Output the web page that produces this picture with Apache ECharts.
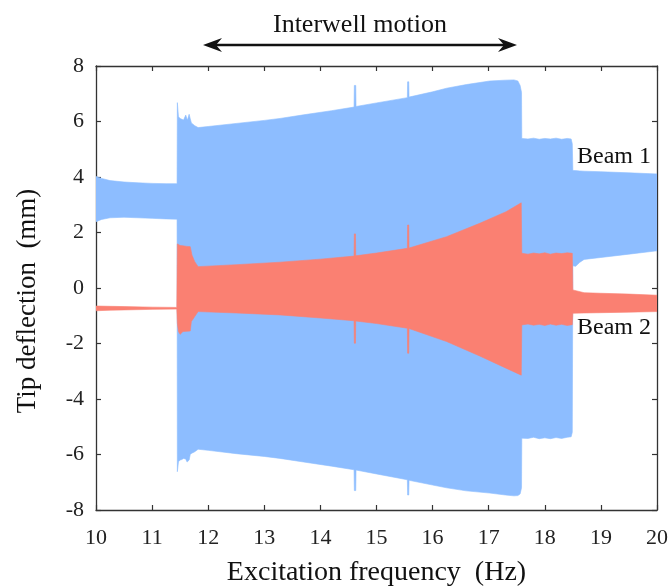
<!DOCTYPE html>
<html><head><meta charset="utf-8">
<script src="https://cdn.jsdelivr.net/npm/echarts@6/dist/echarts.min.js"></script>
<style>html,body{margin:0;padding:0;background:#fff}#c{width:671px;height:586px}</style>
</head><body><div id="c"></div>
<script>
// Axis ticks
const xTicks = [10, 11, 12, 13, 14, 15, 16, 17, 18, 19, 20];
const yTicks = [-8, -6, -4, -2, 0, 2, 4, 6, 8];

// Beam 1 response envelope (frequency in Hz, lower/upper tip deflection in mm)
const beam1Freq = [10.0, 10.1, 10.25, 10.5, 10.75, 11.0, 11.25, 11.445,
  11.45, 11.47, 11.50, 11.53, 11.56, 11.60, 11.62, 11.63, 11.66, 11.68, 11.70, 11.76, 11.82,
  12.0, 12.5, 13.0, 13.28, 13.7, 14.2, 14.60, 14.605, 14.63, 14.635, 15.0, 15.55, 15.555, 15.575, 15.58,
  16.0, 16.25, 16.6, 17.02, 17.3, 17.45, 17.52, 17.56, 17.585,
  17.59, 17.7, 17.8, 17.9, 18.0, 18.1, 18.2, 18.3, 18.4, 18.47, 18.49,
  18.5, 18.55, 18.62, 18.7, 19.0, 19.5, 20.0];
const beam1Lower = [2.39, 2.47, 2.53, 2.55, 2.53, 2.51, 2.49, 2.48,
  -6.62, -6.26, -6.20, -6.18, -6.14, -6.16, -6.26, -6.26, -6.20, -6.00, -5.96, -5.90, -5.81,
  -5.85, -5.97, -6.07, -6.14, -6.27, -6.42, -6.55, -7.30, -7.30, -6.56, -6.70, -6.91, -7.46, -7.46, -6.93,
  -7.10, -7.20, -7.31, -7.39, -7.46, -7.49, -7.48, -7.42, -7.20,
  -5.41, -5.42, -5.38, -5.43, -5.40, -5.43, -5.39, -5.42, -5.38, -5.36, -5.20,
  0.80, 0.78, 0.92, 1.03, 1.10, 1.22, 1.34];
const beam1Upper = [4.02, 3.95, 3.87, 3.82, 3.79, 3.77, 3.76, 3.76,
  6.68, 6.17, 6.11, 6.08, 6.05, 6.23, 6.10, 6.05, 6.26, 6.10, 5.95, 5.85, 5.78,
  5.82, 5.93, 6.04, 6.11, 6.24, 6.39, 6.52, 7.30, 7.30, 6.54, 6.67, 6.86, 7.43, 7.43, 6.88,
  7.07, 7.20, 7.33, 7.46, 7.49, 7.50, 7.46, 7.30, 7.05,
  5.39, 5.37, 5.40, 5.36, 5.39, 5.37, 5.40, 5.36, 5.39, 5.37, 5.20,
  4.23, 4.23, 4.22, 4.21, 4.19, 4.15, 4.11];

// Beam 2 response envelope
const beam2Freq = [10.0, 10.25, 10.5, 11.0, 11.44,
  11.45, 11.47, 11.50, 11.55, 11.62, 11.68, 11.70, 11.71, 11.76, 11.82,
  12.5, 13.28, 14.0, 14.60, 14.605, 14.625, 14.63, 15.0, 15.55, 15.555, 15.575, 15.58,
  16.25, 16.84, 17.31, 17.58,
  17.59, 17.7, 17.8, 17.9, 18.0, 18.1, 18.2, 18.3, 18.4, 18.49,
  18.5, 18.7, 19.0, 19.5, 20.0];
const beam2Lower = [-0.82, -0.80, -0.79, -0.77, -0.76,
  -1.27, -1.57, -1.67, -1.57, -1.56, -1.55, -1.21, -1.18, -1.03, -0.85,
  -0.90, -0.97, -1.08, -1.18, -1.99, -1.99, -1.19, -1.28, -1.45, -2.35, -2.35, -1.46,
  -1.93, -2.45, -2.89, -3.14,
  -1.33, -1.30, -1.34, -1.31, -1.35, -1.30, -1.34, -1.31, -1.35, -1.32,
  -0.91, -0.90, -0.89, -0.87, -0.85];
const beam2Upper = [-0.65, -0.66, -0.67, -0.69, -0.70,
  1.59, 1.57, 1.53, 1.52, 1.50, 1.49, 1.30, 1.19, 0.95, 0.77,
  0.84, 0.93, 1.04, 1.15, 1.95, 1.95, 1.16, 1.26, 1.43, 2.27, 2.27, 1.44,
  1.85, 2.33, 2.75, 3.07,
  1.25, 1.22, 1.26, 1.23, 1.27, 1.22, 1.26, 1.24, 1.27, 1.25,
  -0.07, -0.17, -0.19, -0.22, -0.26];

const FONT = '"Liberation Serif", "DejaVu Serif", serif';
const BLUE = '#8dbdff';
const RED = '#fa8072';
const AXC = '#333333';

function bandSeries(name, freq, lo, hi, color, z) {
  const rows = freq.map((f, i) => [f, lo[i], hi[i]]);
  return {
    type: 'custom', name: name, data: rows, z: z, clip: true,
    encode: { x: 0, y: [1, 2] },
    renderItem: function (params, api) {
      if (params.dataIndex !== 0) return null;
      const pts = [];
      for (let i = 0; i < rows.length; i++) pts.push(api.coord([rows[i][0], rows[i][2]]));
      for (let i = rows.length - 1; i >= 0; i--) pts.push(api.coord([rows[i][0], rows[i][1]]));
      return { type: 'polygon', shape: { points: pts }, style: { fill: color, stroke: color, lineWidth: 0.6 } };
    }
  };
}

const chart = echarts.init(document.getElementById('c'), null, { renderer: 'canvas' });
const xmin = xTicks[0], xmax = xTicks[xTicks.length - 1];
const ymin = yTicks[0], ymax = yTicks[yTicks.length - 1];
const axisCommon = {
  axisLine: { show: true, onZero: false, lineStyle: { color: AXC, width: 1.3 } },
  axisTick: { show: true, inside: true, length: 5, lineStyle: { color: AXC, width: 1.2 } },
  splitLine: { show: false }
};
chart.setOption({
  animation: false,
  backgroundColor: '#ffffff',
  grid: { left: 96, right: 14, top: 66, bottom: 76, containLabel: false, outerBoundsMode: 'none' },
  xAxis: [
    Object.assign({
      type: 'value', min: xmin, max: xmax, interval: 1, position: 'bottom',
      name: 'Excitation frequency  (Hz)', nameLocation: 'middle', nameGap: 49,
      nameTextStyle: { fontFamily: FONT, fontSize: 28, color: '#111' },
      axisLabel: { fontFamily: FONT, fontSize: 22, color: '#222', margin: 17,
        formatter: v => String(v) }
    }, axisCommon),
    Object.assign({
      type: 'value', min: xmin, max: xmax, interval: 1, position: 'top',
      axisLabel: { show: false }
    }, axisCommon)
  ],
  yAxis: [
    Object.assign({
      type: 'value', min: ymin, max: ymax, interval: 2, position: 'left',
      name: 'Tip deflection  (mm)', nameLocation: 'middle', nameGap: 55, nameRotate: 90,
      nameTextStyle: { fontFamily: FONT, fontSize: 27, color: '#111', padding: [0, 26, 0, 0] },
      axisLabel: { fontFamily: FONT, fontSize: 22, color: '#222', margin: 12,
        formatter: v => String(v).replace('\u2212', '-') }
    }, axisCommon),
    Object.assign({
      type: 'value', min: ymin, max: ymax, interval: 2, position: 'right',
      axisLabel: { show: false }
    }, axisCommon)
  ],
  series: [
    bandSeries('Beam 1', beam1Freq, beam1Lower, beam1Upper, BLUE, 2),
    bandSeries('Beam 2', beam2Freq, beam2Lower, beam2Upper, RED, 3)
  ],
  graphic: [
    { type: 'text', left: 577, top: 145, z: 10,
      style: { text: 'Beam 1', font: '24px ' + FONT, fill: '#111' } },
    { type: 'text', left: 577, top: 316, z: 10,
      style: { text: 'Beam 2', font: '24px ' + FONT, fill: '#111' } },
    { type: 'text', x: 360, y: 25, z: 10,
      style: { text: 'Interwell motion', font: '26px ' + FONT, fill: '#111', align: 'center', verticalAlign: 'middle' } },
    { type: 'line', z: 10, shape: { x1: 212, y1: 45, x2: 508, y2: 45 },
      style: { stroke: '#111', lineWidth: 2.4 } },
    { type: 'polygon', z: 10, shape: { points: [[203, 45], [222, 38], [216, 45], [222, 52]] },
      style: { fill: '#111' } },
    { type: 'polygon', z: 10, shape: { points: [[517, 45], [498, 38], [504, 45], [498, 52]] },
      style: { fill: '#111' } }
  ]
});
</script>
</body></html>
